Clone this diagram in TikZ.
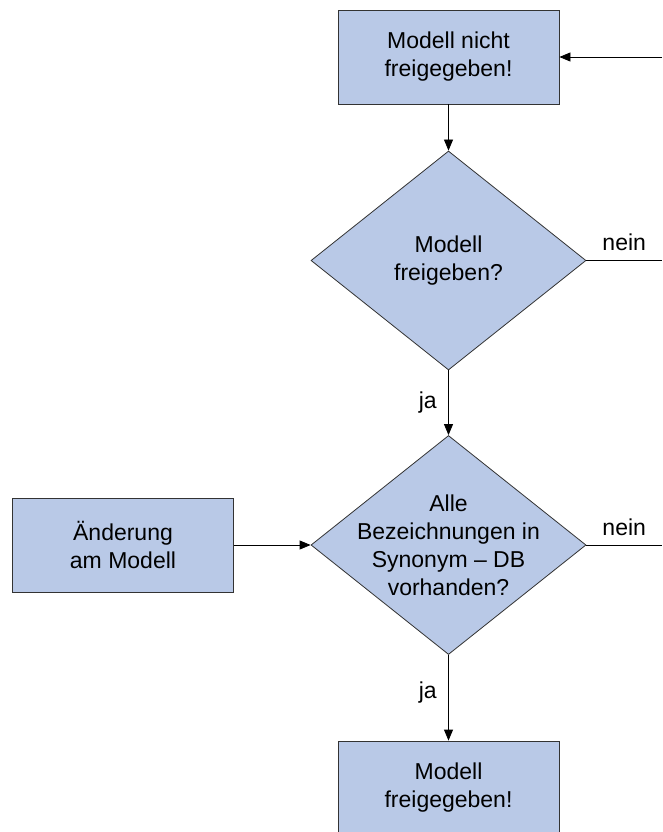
\documentclass[tikz,border=0pt]{standalone}
\usepackage{fontspec}
\setmainfont{Liberation Sans}
\usepackage{xcolor}
\usetikzlibrary{arrows.meta,shapes.geometric}
\definecolor{boxblue}{RGB}{185,201,231}

\begin{document}
\begin{tikzpicture}[x=1pt,y=-1pt,line width=0.8pt,>={Triangle[length=11pt,width=9pt]},
  every node/.style={font=\fontsize{23}{28}\selectfont,align=center},
  box/.style={draw=black!80,fill=boxblue,minimum width=221pt,minimum height=94pt,inner sep=0pt},
  decision/.style={draw=black!80,fill=boxblue,diamond,inner sep=-20pt,minimum width=275pt,minimum height=219pt},
  label/.style={yshift=6pt}]
\clip (0,0) rectangle (662,832);
\node[box] (notfree) at (448.5,57) {Modell nicht\\freigegeben!};
\node[decision] (askfree) at (448.5,260.5) {Modell\\freigeben?};
\node[decision] (asksyn) at (448.5,545) {Alle\\Bezeichnungen in\\Synonym -- DB\\vorhanden?};
\node[box] (change) at (123,545) {Änderung\\am Modell};
\node[box] (free) at (448.5,788) {Modell\\freigegeben!};
\coordinate (loopback) at (662,57);
\coordinate (outfree) at (662,260.5);
\coordinate (outsyn) at (662,545);
\draw[->] (loopback) -- (notfree);
\draw[->] (notfree) -- (askfree);
\draw (askfree.east) -- node[above,label] {nein} (outfree);
\draw[->] (askfree) -- node[left,xshift=-8pt] {ja} (asksyn);
\draw[->] (change) -- (asksyn);
\draw (asksyn.east) -- node[above,label] {nein} (outsyn);
\draw[->] (asksyn) -- node[left,xshift=-8pt,yshift=5pt] {ja} (free);
\end{tikzpicture}
\end{document}
